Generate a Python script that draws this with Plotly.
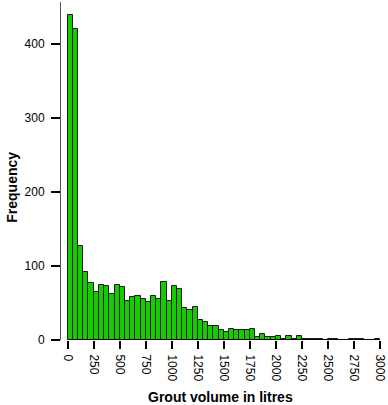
import plotly.graph_objects as go

bin_starts = list(range(0, 3000, 50))
counts = [439, 421, 127, 92, 77, 65, 75, 73, 62, 75,
          72, 53, 58, 60, 56, 51, 59, 56, 78, 53,
          73, 69, 43, 40, 45, 27, 25, 19, 19, 14,
          11, 15, 14, 13, 14, 15, 4, 8, 4, 4,
          5, 1, 5, 1, 6, 1, 1, 2, 2, 0,
          2, 1, 0, 0, 2, 2, 1, 0, 0, 1]
x_ticks = list(range(0, 3001, 250))
y_ticks = [0, 100, 200, 300, 400]
bin_width = 50

centers = [b + bin_width / 2 for b in bin_starts]

fig = go.Figure()
fig.add_trace(go.Bar(
    x=centers, y=counts, width=[bin_width] * len(centers),
    marker=dict(color="#14CC00", line=dict(color="#1a1a1a", width=1)),
    hoverinfo="skip",
))

font = "Liberation Sans, Arial, Helvetica, sans-serif"
fig.update_layout(
    width=388, height=405,
    margin=dict(l=61, r=8, t=2, b=65),
    plot_bgcolor="white", paper_bgcolor="white",
    showlegend=False,
    bargap=0,
    font=dict(family=font, size=12, color="black"),
    xaxis=dict(range=[-64, 3000], tickvals=x_ticks, ticktext=[str(v) for v in x_ticks],
               tickangle=90, ticks="outside", ticklen=8, tickcolor="black", tickwidth=1.5,
               ticklabelstandoff=3,
               showgrid=False, zeroline=False, showline=False, automargin=False,
               tickfont=dict(size=12, family=font)),
    yaxis=dict(range=[0, 457], tickvals=y_ticks, ticks="outside", ticklen=9,
               tickcolor="black", tickwidth=1.5, ticklabelstandoff=4,
               showgrid=False, zeroline=False, automargin=False,
               showline=True, linecolor="#555555", linewidth=1,
               tickfont=dict(size=12, family=font)),
    shapes=[dict(type="line", xref="x", yref="y", x0=0, x1=3000, y0=0, y1=0,
                 line=dict(color="black", width=1.5))],
    annotations=[
        dict(text="<b>Grout volume in litres</b>", xref="paper", yref="paper",
             x=0.5, y=-0.169, xanchor="center", yanchor="middle", showarrow=False,
             font=dict(size=14, family=font)),
        dict(text="<b>Frequency</b>", xref="paper", yref="paper",
             x=-0.154, y=0.453, xanchor="center", yanchor="middle", showarrow=False,
             textangle=-90, font=dict(size=14, family=font)),
    ],
)

fig.write_html("out.html", config={"displayModeBar": False},
               post_script="document.body.style.margin='0';document.body.style.overflow='hidden';")
